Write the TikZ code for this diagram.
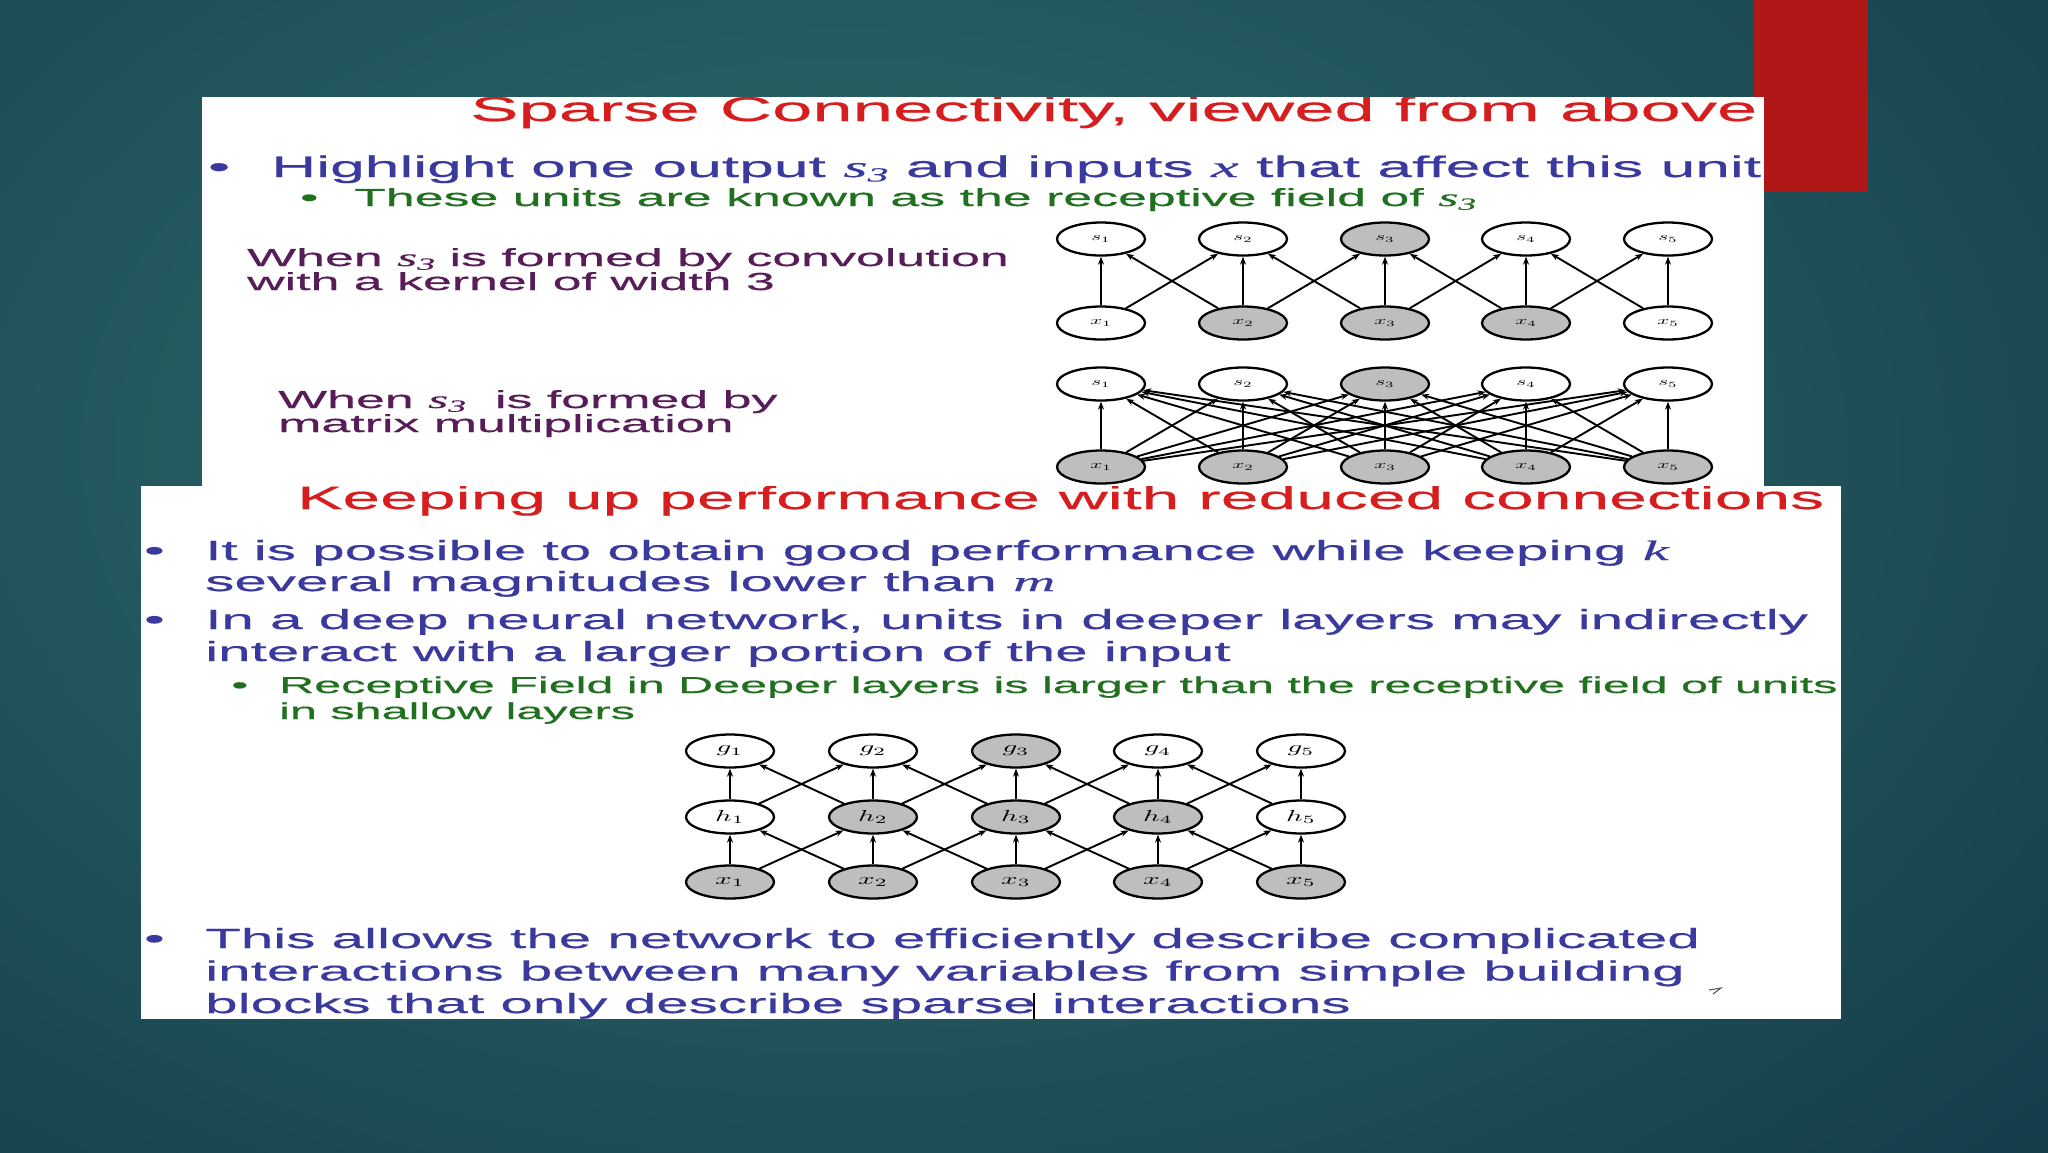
\documentclass[tikz,border=0pt]{standalone}
\usepackage{fontspec}
\setmainfont{Liberation Sans}
\newfontfamily\wsans[FakeStretch=2.1,FakeBold=0.5]{Liberation Sans}
\newfontfamily\wserif[FakeStretch=2.1,FakeBold=0.3]{Liberation Serif}
\usetikzlibrary{shapes.geometric,arrows.meta}
\definecolor{bgin}{RGB}{48,110,110}
\definecolor{bgout}{RGB}{18,58,72}
\definecolor{slidered}{RGB}{176,23,23}
\definecolor{titlered}{RGB}{215,30,30}
\definecolor{blueA}{RGB}{58,58,158}
\definecolor{greenA}{RGB}{32,112,32}
\definecolor{purpleA}{RGB}{88,28,88}
\definecolor{unitgray}{RGB}{190,190,190}
\newcommand\fs[1]{\fontsize{#1}{#1}\selectfont}
\newcommand\ivar[1]{{\wserif\itshape #1}}
\newcommand\sthree[1]{{\wserif\itshape s\raisebox{-0.15em}{\fs{#1}3}}}
\newcommand\labA[1]{\scalebox{2.1}[1.15]{$#1$}}
\newcommand\labB[1]{\scalebox{2.9}[1.6]{$#1$}}
\tikzset{
  txt/.style={anchor=base west, inner sep=0pt, font=\wsans},
  unitA/.style={ellipse, draw=black, line width=2.3pt, minimum width=88pt, minimum height=33pt, inner sep=0pt},
  unitB/.style={ellipse, draw=black, line width=2.3pt, minimum width=88pt, minimum height=33pt, inner sep=0pt},
  arr/.style={-{Stealth[length=8pt,width=6pt]}, line width=1.9pt, black},
}
\begin{document}
\begin{tikzpicture}[x=1pt,y=-1pt]
\useasboundingbox (0,0) rectangle (2048,1152);
% background
\begin{scope}
\clip (0,0) rectangle (2048,1152);
\shade[inner color=bgin, outer color=bgout] (-850,-650) rectangle (2550,1550);
\end{scope}
\fill[slidered] (1754,0) rectangle (1868,192);

% ---------- upper panel ----------
\fill[white] (202,97) rectangle (1764,486);
\begin{scope}
\clip (202,97) rectangle (1764,486);
\node[txt, text=titlered] (t1) at (470,121) {\fs{34.5}Sparse Connectivity, viewed from above};
\node[txt, text=blueA] (u1b) at (208,177) {\fs{29.7}•};
\node[txt, text=blueA] (u1) at (271,177) {\fs{29.7}Highlight one output \sthree{20} and inputs \ivar{x} that affect this unit};
\node[txt, text=greenA] (u2b) at (300,206) {\fs{24.7}•};
\node[txt, text=greenA] (u2) at (354,206) {\fs{24.7}These units are known as the receptive field of \sthree{17}};
\node[txt, text=purpleA] (c1) at (247,266) {\fs{24.7}When \sthree{17} is formed by convolution};
\node[txt, text=purpleA] (c2) at (247,290) {\fs{24.7}with a kernel of width 3};
\node[txt, text=purpleA] (m1) at (278,408) {\fs{24.7}When \sthree{17}\ \ is formed by};
\node[txt, text=purpleA] (m2) at (278,432) {\fs{24.7}matrix multiplication};
\end{scope}

% diagram 1 (convolution)
\foreach \i/\x/\fa/\fb in {1/1101/white/white, 2/1243/white/unitgray, 3/1385/unitgray/unitgray, 4/1526/white/unitgray, 5/1668/white/white} {
  \node[unitA, fill=\fa] (as\i) at (\x,239) {\labA{s_\i}};
  \node[unitA, fill=\fb] (ax\i) at (\x,323) {\labA{x_\i}};
}
\foreach \i/\j in {1/1,1/2,2/1,2/2,2/3,3/2,3/3,3/4,4/3,4/4,4/5,5/4,5/5}
  \draw[arr] (ax\i) -- (as\j);

% diagram 2 (matrix multiplication)
\foreach \i/\x/\fa in {1/1101/white, 2/1243/white, 3/1385/unitgray, 4/1526/white, 5/1668/white} {
  \node[unitA, fill=\fa] (bs\i) at (\x,384) {\labA{s_\i}};
  \node[unitA, fill=unitgray] (bx\i) at (\x,467) {\labA{x_\i}};
}
\foreach \i in {1,...,5}
  \foreach \j in {1,...,5}
    \draw[arr] (bx\i) -- (bs\j);

% ---------- lower panel ----------
\fill[white] (141,486) rectangle (1841,1019);
\begin{scope}
\clip (141,486) rectangle (1841,1019);
\node[txt, text=titlered] (t2) at (297,509) {\fs{32.3}Keeping up performance with reduced connections};
\node[txt, text=blueA] (p1b) at (144,560) {\fs{27.8}•};
\node[txt, text=blueA] (p1) at (205,560) {\fs{27.8}It is possible to obtain good performance while keeping \ivar{k}};
\node[txt, text=blueA] (p1c) at (205,591) {\fs{27.8}several magnitudes lower than \ivar{m}};
\node[txt, text=blueA] (p2b) at (144,629) {\fs{27.8}•};
\node[txt, text=blueA] (p2) at (205,629) {\fs{27.8}In a deep neural network, units in deeper layers may indirectly};
\node[txt, text=blueA] (p2c) at (205,661) {\fs{27.8}interact with a larger portion of the input};
\node[txt, text=greenA] (p3b) at (231,693) {\fs{23.1}•};
\node[txt, text=greenA] (p3) at (279,693) {\fs{23.1}Receptive Field in Deeper layers is larger than the receptive field of units};
\node[txt, text=greenA] (p3c) at (279,719) {\fs{23.1}in shallow layers};
\node[txt, text=blueA] (p4b) at (144,948) {\fs{27.8}•};
\node[txt, text=blueA] (p4) at (205,948) {\fs{27.8}This allows the network to efficiently describe complicated};
\node[txt, text=blueA] (p4c) at (205,980.5) {\fs{27.8}interactions between many variables from simple building};
\node[txt, text=blueA] (p4d) at (205,1013) {\fs{27.8}blocks that only describe sparse interactions};
\draw[line width=1.2pt, black] (1034,993) -- (1034,1019);
\draw[line width=1pt, black!70] (1709,990) -- (1721,988) -- (1713,994);
\end{scope}

% diagram 3 (deep network)
\foreach \i/\x/\fg/\fh in {1/730/white/white, 2/873/white/unitgray, 3/1016/unitgray/unitgray, 4/1158/white/unitgray, 5/1301/white/white} {
  \node[unitB, fill=\fg] (g\i) at (\x,751) {\labB{g_\i}};
  \node[unitB, fill=\fh] (h\i) at (\x,817) {\labB{h_\i}};
  \node[unitB, fill=unitgray] (x\i) at (\x,882) {\labB{x_\i}};
}
\foreach \i/\j in {1/1,1/2,2/1,2/2,2/3,3/2,3/3,3/4,4/3,4/4,4/5,5/4,5/5} {
  \draw[arr] (x\i) -- (h\j);
  \draw[arr] (h\i) -- (g\j);
}
\end{tikzpicture}
\end{document}
